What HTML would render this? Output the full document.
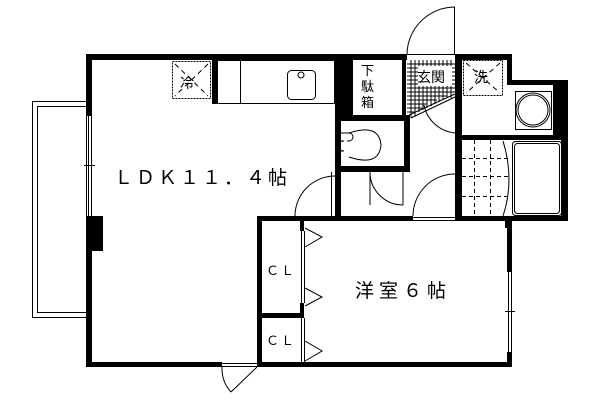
<!DOCTYPE html>
<html><head><meta charset="utf-8"><style>
html,body{margin:0;padding:0;background:#fff;width:600px;height:400px;overflow:hidden}
text{font-family:"Liberation Sans","Noto Sans CJK JP",sans-serif;fill:#000}
</style></head><body>
<svg width="600" height="400" viewBox="0 0 600 400" xmlns="http://www.w3.org/2000/svg">
<g fill="#000">
<rect x="86" y="54" width="321" height="6"/>
<rect x="455" y="54" width="56" height="6"/>
<rect x="507" y="54" width="5" height="30"/>
<rect x="507" y="80" width="61" height="5"/>
<rect x="561" y="80" width="7" height="141"/>
<rect x="553" y="85" width="10" height="50"/>
<rect x="86" y="54" width="6" height="62"/>
<rect x="86" y="216" width="6" height="151"/>
<rect x="86" y="216" width="17" height="35"/>
<rect x="86" y="362" width="136" height="5"/>
<rect x="257" y="362" width="255" height="5"/>
<rect x="257" y="216" width="5" height="151"/>
<rect x="257" y="216" width="156" height="5"/>
<rect x="455" y="216" width="113" height="5"/>
<rect x="507" y="216" width="5" height="56"/>
<rect x="507" y="352" width="5" height="15"/>
<rect x="257" y="313" width="47" height="5"/>
<rect x="300" y="221" width="4" height="10"/>
<rect x="300" y="303" width="4" height="10"/>
<rect x="212" y="60" width="5" height="44"/>
<rect x="335" y="54" width="18" height="66"/>
<rect x="335" y="115" width="75" height="6"/>
<rect x="335" y="115" width="6" height="57"/>
<rect x="404" y="115" width="6" height="57"/>
<rect x="335" y="166" width="75" height="6"/>
<rect x="335" y="172" width="6" height="46"/>
<rect x="455" y="54" width="7" height="167"/>
<rect x="462" y="135" width="99" height="5"/>
<rect x="402" y="60" width="4" height="55"/>
<rect x="505" y="218" width="5" height="10"/>
</g>
<g fill="none" stroke="#000" stroke-width="1">
<rect x="32.5" y="101.5" width="54" height="216"/>
<rect x="37.5" y="106.5" width="49" height="206"/>
<line x1="88.5" y1="116" x2="88.5" y2="216"/><line x1="91.5" y1="116" x2="91.5" y2="216"/>
<line x1="84" y1="165.5" x2="95" y2="165.5"/>
<line x1="508.5" y1="272" x2="508.5" y2="352"/><line x1="511.5" y1="272" x2="511.5" y2="352"/>
<line x1="505" y1="311.5" x2="515" y2="311.5"/>
<rect x="217.5" y="60.5" width="117" height="43"/>
<line x1="240.5" y1="60" x2="240.5" y2="104"/>
<rect x="287.5" y="70.5" width="28" height="29" rx="4"/>
<circle cx="301" cy="75" r="3"/>
<rect x="172.5" y="61.5" width="38" height="37" stroke-dasharray="2,1"/>
<line x1="175" y1="64" x2="208" y2="96" stroke-dasharray="5,4"/>
<line x1="208" y1="64" x2="175" y2="96" stroke-dasharray="5,4"/>
<line x1="222" y1="363.5" x2="257" y2="363.5"/><line x1="222" y1="366.5" x2="257" y2="366.5"/>
<line x1="257" y1="367" x2="231" y2="392"/>
<path d="M222 367 A35 35 0 0 0 231 392"/>
<path d="M295 216 A40 40 0 0 1 335 176"/>
<line x1="295" y1="216.5" x2="335" y2="216.5"/>
<line x1="331.5" y1="172" x2="331.5" y2="216"/>
<path d="M341 133 h8 a4 4 0 0 1 0 8 h-2 M341 141 h3 a6 4 0 0 0 0 10 h-3" />
<path d="M349 133 q30 -10 32 12 q-2 22 -32 12"/>
<line x1="370" y1="172" x2="370" y2="205"/>
<path d="M370 172 A33 33 0 0 0 403 205"/>
<line x1="403" y1="172" x2="403" y2="205"/>
<path d="M413 216 A42 42 0 0 1 455 174"/>
<line x1="413" y1="217.5" x2="455" y2="217.5"/><line x1="413" y1="220.5" x2="455" y2="220.5"/>
<line x1="407" y1="54.5" x2="455" y2="54.5"/>
<line x1="454.5" y1="7" x2="454.5" y2="54"/>
<path d="M407 54 A48 48 0 0 1 455 7"/>
<path d="M424 105 A35 35 0 0 0 455 133"/>
<line x1="411" y1="118" x2="455" y2="97"/>
<line x1="409" y1="115" x2="455" y2="94"/>
<rect x="463.5" y="60.5" width="39" height="35" stroke-dasharray="2,1"/>
<line x1="466" y1="63" x2="500" y2="93" stroke-dasharray="5,4"/>
<line x1="500" y1="63" x2="466" y2="93" stroke-dasharray="5,4"/>
<rect x="515.5" y="91.5" width="36" height="38"/>
<ellipse cx="533" cy="110" rx="17" ry="17"/><ellipse cx="533" cy="110" rx="15" ry="15"/>
<rect x="512.5" y="141.5" width="49" height="74" rx="3"/>
<rect x="514.5" y="143.5" width="45" height="70" rx="3"/>
<g stroke-dasharray="4,3">
<line x1="474.5" y1="140" x2="474.5" y2="216"/><line x1="490.5" y1="140" x2="490.5" y2="216"/>
<line x1="462" y1="158.5" x2="508" y2="158.5"/><line x1="462" y1="176.5" x2="508" y2="176.5"/><line x1="462" y1="196.5" x2="508" y2="196.5"/>
</g>
<path d="M503 141 Q515 180 503 216"/>
<line x1="301.5" y1="231" x2="301.5" y2="303"/><line x1="304.5" y1="231" x2="304.5" y2="303"/>
<line x1="301.5" y1="318" x2="301.5" y2="362"/><line x1="304.5" y1="318" x2="304.5" y2="362"/>
<path d="M305 228 L322 237 L305 247"/>
<path d="M305 288 L322 297 L305 306"/>
<path d="M305 341 L322 351 L305 361"/>
</g>
<g stroke="#000" stroke-width="1">
<path d="M407 64h48M407 68h48M407 72h48M407 76h48M407 80h48M407 84h48M407 88h48M407 92h48M407 96h40M407 100h30M407 104h20M407 108h15M407 112h8" />
<path d="M411 60v58M415 60v56M419 60v52M423 60v50M427 60v48M431 60v46M435 60v44M439 60v42M443 60v40M447 60v38M451 60v38"/>
</g>
<rect x="418" y="66" width="34" height="20" fill="#fff"/>
<text x="180" y="88" font-size="14">冷</text>
<text x="361" y="75" font-size="13">下</text>
<text x="361" y="91" font-size="13">駄</text>
<text x="361" y="107" font-size="13">箱</text>
<text x="417" y="82" font-size="14">玄関</text>
<text x="474" y="82" font-size="14">洗</text>
<text x="114" y="184" font-size="19" letter-spacing="3">ＬＤＫ１１．４帖</text>
<text x="355" y="297" font-size="19" letter-spacing="5">洋室６帖</text>
<text x="266" y="275" font-size="13" letter-spacing="2">ＣＬ</text>
<text x="266" y="345" font-size="13" letter-spacing="2">ＣＬ</text>
</svg>
</body></html>
